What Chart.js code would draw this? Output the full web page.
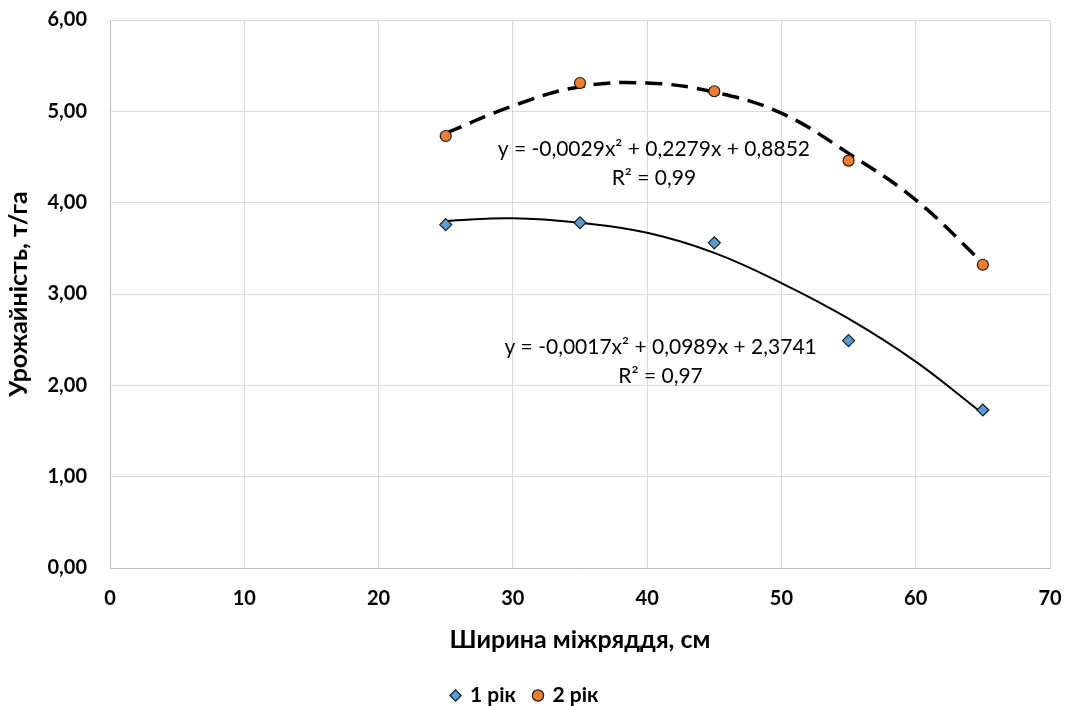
<!DOCTYPE html>
<html>
<head>
<meta charset="utf-8">
<script src="https://cdn.jsdelivr.net/npm/chart.js@4.4.1/dist/chart.umd.min.js"></script>
<style>
  html, body { margin: 0; padding: 0; background: #fff; }
  #wrap { width: 1068px; height: 706px; position: relative; }
</style>
</head>
<body>
<div id="wrap"><canvas id="chart" width="1068" height="706"></canvas></div>
<script>
// ширина міжряддя, см
const rowWidth = [25, 35, 45, 55, 65];
const year1 = [3.76, 3.78, 3.56, 2.49, 1.73];
const year2 = [4.73, 5.31, 5.22, 4.46, 3.32];

// trend curves
const trendX = [25, 30, 35, 40, 45, 50, 55, 60, 65];
const trend1 = [3.80, 3.83, 3.78, 3.67, 3.45, 3.12, 2.73, 2.26, 1.69];
const trend2 = [4.76, 5.06, 5.27, 5.31, 5.21, 4.98, 4.54, 4.03, 3.34];

const eq1 = ['y = -0,0017x² + 0,0989x + 2,3741', 'R² = 0,97'];
const eq2 = ['y = -0,0029x² + 0,2279x + 0,8852', 'R² = 0,99'];

const FONT = 'Lato, "Open Sans", sans-serif';

function pts(xs, ys) {
  return xs.map((x, i) => ({ x: x, y: ys[i] }));
}

function fmt(v) {
  return v.toFixed(2).replace('.', ',');
}

// draws the equation labels at data positions
const eqLabels = {
  id: 'eqLabels',
  afterDatasetsDraw(chart) {
    const { ctx, scales: { x, y } } = chart;
    const items = [
      { lines: eq2, at: [40.5, 4.58] },
      { lines: eq1, at: [41.0, 2.42] }
    ];
    ctx.save();
    ctx.fillStyle = '#000';
    ctx.font = '21px ' + FONT;
    ctx.textAlign = 'center';
    ctx.textBaseline = 'middle';
    items.forEach(it => {
      const px = x.getPixelForValue(it.at[0]);
      const py = y.getPixelForValue(it.at[1]);
      ctx.fillText(it.lines[0], px, py);
      ctx.fillText(it.lines[1], px, py + 29);
    });
    ctx.restore();
  }
};

new Chart(document.getElementById('chart'), {
  type: 'scatter',
  data: {
    datasets: [
      {
        label: '1 рік',
        data: pts(rowWidth, year1),
        pointStyle: 'rectRot',
        pointRadius: 6,
        pointBackgroundColor: '#5B9BD5',
        pointBorderColor: '#1a1a1a',
        pointBorderWidth: 1.2,
        backgroundColor: '#5B9BD5',
        borderColor: '#1a1a1a',
        order: 0
      },
      {
        label: '2 рік',
        data: pts(rowWidth, year2),
        pointStyle: 'circle',
        pointRadius: 5.5,
        pointBackgroundColor: '#ED7D31',
        pointBorderColor: '#1a1a1a',
        pointBorderWidth: 1.2,
        backgroundColor: '#ED7D31',
        borderColor: '#1a1a1a',
        order: 0
      },
      {
        label: 'trend1',
        data: pts(trendX, trend1),
        showLine: true,
        tension: 0.4,
        pointRadius: 0,
        borderColor: '#000',
        borderWidth: 2,
        order: 1
      },
      {
        label: 'trend2',
        data: pts(trendX, trend2),
        showLine: true,
        tension: 0.4,
        pointRadius: 0,
        borderColor: '#000',
        borderWidth: 3.5,
        borderDash: [17, 9],
        order: 1
      }
    ]
  },
  options: {
    responsive: false,
    animation: false,
    layout: { padding: { top: 20, right: 18, left: 0, bottom: -10 } },
    plugins: {
      tooltip: { enabled: false },
      legend: {
        position: 'bottom',
        labels: {
          filter: item => !item.text.startsWith('trend'),
          usePointStyle: true,
          boxWidth: 8,
          boxHeight: 8,
          padding: 18,
          color: '#000',
          font: { family: FONT, size: 21, weight: 'bold' }
        }
      }
    },
    scales: {
      x: {
        type: 'linear',
        min: 0,
        max: 70,
        afterFit(scale) {
          scale.height = 99;
          scale.paddingLeft = 0;
          scale.paddingRight = 0;
        },
        ticks: {
          stepSize: 10,
          padding: 19,
          color: '#000',
          font: { family: FONT, size: 20, weight: 'bold' }
        },
        grid: { color: '#d9d9d9', lineWidth: 1, drawTicks: false },
        border: { color: '#bfbfbf' },
        title: {
          display: true,
          text: 'Ширина міжряддя, см',
          color: '#000',
          padding: { top: 0, bottom: 12 },
          font: { family: FONT, size: 25, weight: 'bold' }
        }
      },
      y: {
        min: 0,
        max: 6,
        afterFit(scale) {
          scale.width = 110;
          scale.paddingTop = 0;
          scale.paddingBottom = 0;
        },
        ticks: {
          stepSize: 1,
          padding: 23,
          color: '#000',
          callback: v => fmt(v),
          font: { family: FONT, size: 20, weight: 'bold' }
        },
        grid: { color: '#d9d9d9', lineWidth: 1, drawTicks: false },
        border: { color: '#bfbfbf' },
        title: {
          display: true,
          text: 'Урожайність, т/га',
          color: '#000',
          padding: { top: 4, bottom: 0 },
          font: { family: FONT, size: 25, weight: 'bold' }
        }
      }
    }
  },
  plugins: [eqLabels]
});
</script>
</body>
</html>
